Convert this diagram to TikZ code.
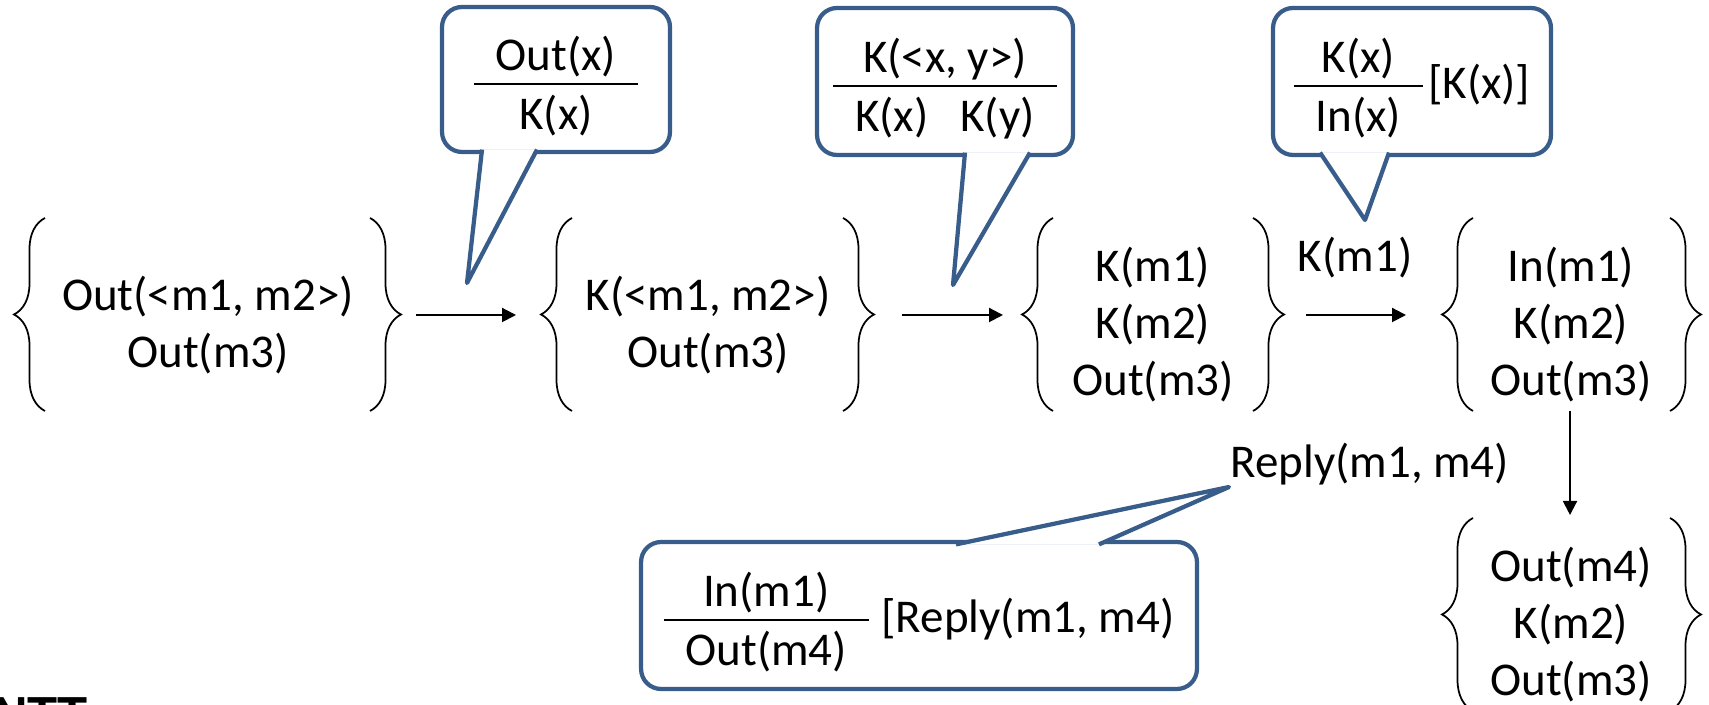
\documentclass[tikz,border=0pt]{standalone}
\usepackage{fontspec}
\setmainfont{Carlito}
\newfontfamily\logofont{Liberation Sans}
\usepackage{tikz}
\usetikzlibrary{positioning}
\usetikzlibrary{arrows.meta,decorations.pathreplacing}

\definecolor{calloutblue}{HTML}{385D8A}
\setlength{\arrayrulewidth}{0.04cm}
\newcommand{\bigtext}{\fontsize{26.75}{32.4}\selectfont}
\newcommand{\frc}[2]{\begin{tabular}{@{\hspace{0.44cm}}c@{\hspace{0.44cm}}}#1\\[-0.08cm]\hline\rule{0pt}{0.88cm}#2\\[-0.36cm]\end{tabular}}
\newcommand{\side}[1]{\raisebox{-0.12cm}{#1}}

\tikzset{
  set/.style={align=center, font=\bigtext, inner sep=0pt},
  lbl/.style={font=\bigtext, inner sep=0pt},
  brace/.style={decorate, decoration={brace, amplitude=0.62cm}, line width=0.035cm},
  flow/.style={->, line width=0.04cm},
  bubble/.style={draw=calloutblue, line width=0.085cm, rounded corners=0.4cm, fill=white, font=\bigtext, inner sep=0pt},
  tail/.style={draw=calloutblue, fill=white, line width=0.085cm, line join=round}
}

\begin{document}
\begin{tikzpicture}[x=0.02cm, y=0.02cm, >={Triangle[length=0.28cm,width=0.28cm]}]
\useasboundingbox (0,0) rectangle (1709,705);

% sets
\node[set] (s1) at (208,380) {Out(<m1, m2>)\\Out(m3)};
\node[set] (s2) at (708,380) {K(<m1, m2>)\\Out(m3)};
\node[set] (s3) at (1153,380) {K(m1)\\K(m2)\\Out(m3)};
\node[set] (s4) at (1571,380) {In(m1)\\K(m2)\\Out(m3)};
\node[set] (s5) at (1571,80) {Out(m4)\\K(m2)\\Out(m3)};

\draw[brace] (45,294) -- (45,487);
\draw[brace] (370,487) -- (370,294);
\draw[brace] (572,294) -- (572,487);
\draw[brace] (843,487) -- (843,294);
\draw[brace] (1053,294) -- (1053,487);
\draw[brace] (1253,487) -- (1253,294);
\draw[brace] (1473,294) -- (1473,487);
\draw[brace] (1670,487) -- (1670,294);
\draw[brace] (1473,-6) -- (1473,187);
\draw[brace] (1670,187) -- (1670,-6);

\coordinate (s1r) at (401,390);
\coordinate (s2l) at (541,390);
\coordinate (s2r) at (874,390);
\coordinate (s3l) at (1022,390);
\coordinate (s3r) at (1284,390);
\coordinate (s4l) at (1442,390);
\coordinate (s4b) at (1570,294);
\coordinate (s5t) at (1570,187);

% steps
\draw[flow, shorten <=0.3cm, shorten >=0.5cm] (s1r) -- (s2l);
\draw[flow, shorten <=0.56cm, shorten >=0.38cm] (s2r) -- (s3l);
\draw[flow, shorten <=0.44cm, shorten >=0.72cm] (s3r) -- node[lbl, pos=0.45, above=0.72cm] (lk) {K(m1)} (s4l);
\draw[flow, shorten >=0.06cm] (s4b) -- node[lbl, left=1.2cm] (lreply) {Reply(m1, m4)} (s5t);

% rules
\node[bubble, minimum width=4.56cm, minimum height=2.9cm] (c1) at (556,625.5) {\frc{Out(x)}{K(x)}};
\coordinate (t1) at (467,422);
\filldraw[tail] ([xshift=-1.48cm,yshift=0.09cm]c1.south) -- (t1) -- ([xshift=-0.38cm,yshift=0.09cm]c1.south);

\node[bubble, minimum width=5.12cm, minimum height=2.94cm] (c2) at (945,623.5) {\frc{K(<x, y>)}{K(x)\hspace{0.64cm}K(y)}};
\coordinate (t2) at (953,420);
\filldraw[tail] ([xshift=0.4cm,yshift=0.09cm]c2.south) -- (t2) -- ([xshift=1.7cm,yshift=0.09cm]c2.south);

\node[bubble, minimum width=5.56cm, minimum height=2.94cm] (c3) at (1412,623.5) {\frc{K(x)}{In(x)}\hspace{0.1cm}\side{[K(x)]}};
\coordinate (t3) at (1365,485);
\filldraw[tail] ([xshift=-1.84cm,yshift=0.09cm]c3.south) -- (t3) -- ([xshift=-0.46cm,yshift=0.09cm]c3.south);

\node[bubble, minimum width=11.12cm, minimum height=2.94cm] (c4) at (919,89.5) {\frc{In(m1)}{Out(m4)}\hspace{0.25cm}\side{[Reply(m1, m4)}\hspace{0.15cm}};
\coordinate (t4) at (1229,218);
\filldraw[tail] ([xshift=0.74cm,yshift=-0.09cm]c4.north) -- (t4) -- ([xshift=3.6cm,yshift=-0.09cm]c4.north);

% logo, cut at the border
\node[font=\logofont\bfseries\fontsize{28}{28}\selectfont, anchor=base west, inner sep=0pt] (logo) at (-8,-27) {NTT};
\end{tikzpicture}
\end{document}
